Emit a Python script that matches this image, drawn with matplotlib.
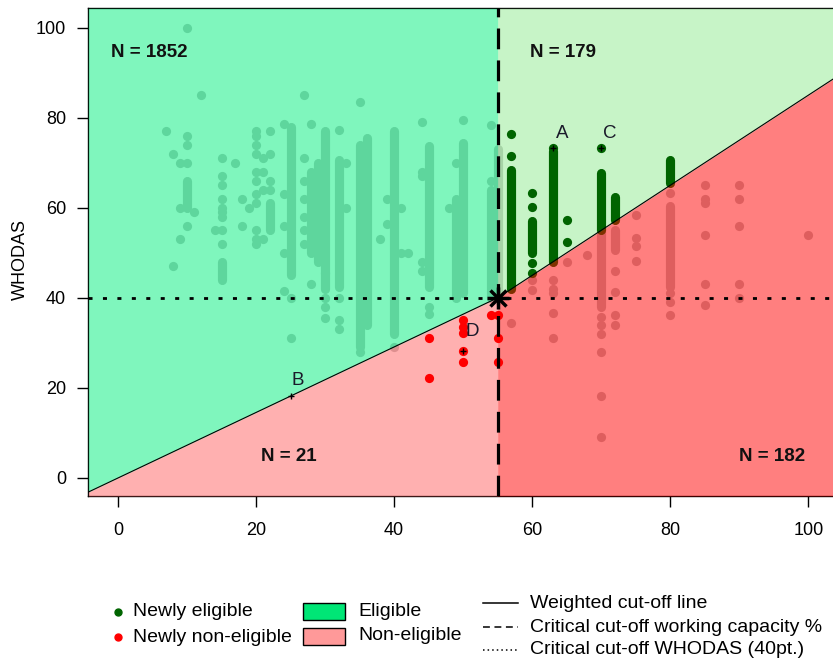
import matplotlib
matplotlib.use("Agg")
import matplotlib.pyplot as plt
from matplotlib.lines import Line2D
from matplotlib.patches import Rectangle
import numpy as np

plt.rcParams['font.family'] = ['Liberation Sans', 'DejaVu Sans']

# ---- cut-off definitions ----
cut_wc = 55          # critical working capacity %
cut_whodas = 40      # critical WHODAS score
slope_right = 1.0    # weighted line slope beyond the working-capacity cut-off

# ---- respondents whose eligibility is unchanged (scattered) ----
resp_x = [10, 12, 7, 8, 9, 10, 10, 10, 9, 11, 10, 9, 8,
          15, 15, 15, 15, 15, 15, 15, 15, 15, 14,
          17, 18, 18, 19,
          20, 20, 20, 20, 20, 20, 20, 20, 20, 20, 21, 21, 21, 21, 22, 22, 22, 22, 20,
          24, 24, 24, 24, 24, 25, 25,
          27, 28, 27, 27, 27, 27, 27, 27, 28, 30, 30, 30, 30,
          32, 32, 32, 32, 33, 33,
          35, 38, 39, 39, 35, 40,
          41, 41, 42, 44, 44, 44, 44, 44, 45, 45,
          48, 49, 50, 54, 54,
          57, 60, 60, 63, 63, 63, 63, 63, 65, 68,
          70, 70, 70, 70, 70, 70,
          72, 72, 72, 72,
          75, 75, 75, 75,
          80, 80, 80, 80,
          85, 85, 85, 85, 85, 85,
          90, 90, 90, 90, 90, 100]
resp_y = [100, 85, 77, 72, 70, 70, 76, 74, 60, 59, 56, 53, 47,
          71, 67, 65, 62, 60, 59, 58, 55, 52, 55,
          70, 62, 56, 60,
          77, 76, 74, 72, 68, 66, 63, 61, 55, 53, 71, 68, 64, 53, 77, 72, 66, 64, 52,
          78.5, 63, 56, 50, 41.5, 40, 31,
          85, 78.5, 71, 66, 62, 58, 55, 52, 43, 45.5, 40, 38, 35.5,
          77.3, 40, 35, 33, 70, 60,
          83.5, 53, 62, 56.5, 28, 29,
          60, 50, 50, 79, 68, 67, 48, 46, 38, 36.5,
          60, 70, 79.4, 78.4, 66,
          34.4, 41.8, 44, 44, 42, 41, 36.6, 31, 48, 49.6,
          35.8, 34, 32, 28, 18.2, 9,
          46, 41.4, 36.3, 34,
          58.4, 53.2, 51.5, 48.1,
          63.3, 41, 39, 36.2,
          65, 62, 61, 54, 43, 38.4,
          65, 62, 56, 43, 40, 54]

# ---- closely stacked runs of unchanged respondents (column, lowest, highest) ----
run_x = [10, 15, 22, 25, 28, 29, 30, 32, 35, 36, 40, 45, 49, 50, 54, 55, 70, 72, 80]
run_lo = [60, 44, 55, 45, 50, 48, 42, 42.5, 29, 34, 32, 42.5, 40, 41, 40, 40, 38, 50.7, 42.5]
run_hi = [66, 48, 61, 78, 68, 70, 77, 70.7, 74, 75.5, 77, 73.7, 62, 74.4, 64, 73, 55, 55, 60.4]

# ---- newly eligible respondents ----
elig_x = [57, 57, 60, 60, 60, 60, 63, 65, 65, 70]
elig_y = [76.4, 71.4, 63.3, 60.2, 47.7, 45.5, 73.3, 57.3, 52.5, 73.3]
elig_run_x = [57, 60, 63, 70, 72, 80]
elig_run_lo = [42, 50, 48, 55, 57.3, 65.5]
elig_run_hi = [68.4, 57, 72.6, 67.7, 62.5, 70.7]

# ---- newly non-eligible respondents ----
nonelig_x = [45, 45, 50, 50, 50, 50, 50, 54, 55, 55, 55]
nonelig_y = [31, 22.2, 35.1, 33.6, 32.1, 28.1, 25.8, 36.2, 36.2, 31, 25.8]

# ---- highlighted cases ----
case_labels = ['A', 'B', 'C', 'D']
case_x = [63, 25, 70, 50]
case_y = [73.3, 18.2, 73.3, 28.1]
case_dx = [1.3, 1.0, 1.3, 1.3]
case_dy = [3.3, 3.5, 3.3, 4.4]

# ---- group sizes ----
n_text = ['N = 1852', 'N = 179', 'N = 21', 'N = 182']
n_x = [4.6, 64.5, 24.7, 94.7]
n_y = [94.5, 94.5, 4.7, 4.7]

xlim = (-4.3, 104.3)
ylim = (-4.0, 104.3)


def cutoff_line(x):
    x = np.asarray(x, dtype=float)
    return np.where(x <= cut_wc, cut_whodas / cut_wc * x,
                    cut_whodas + slope_right * (x - cut_wc))


W, H = 833, 666
fig = plt.figure(figsize=(W / 100, H / 100), dpi=100)
ax_left, ax_right, ax_top, ax_bottom = 88.3, 838.0, 8.3, 496.0
ax = fig.add_axes([ax_left / W, 1 - ax_bottom / H,
                   (ax_right - ax_left) / W, (ax_bottom - ax_top) / H])
ax.set_xlim(*xlim)
ax.set_ylim(*ylim)

grey = '#BEBEBE'
pt_size = 44
run_lw = 6.6

# unchanged respondents (grey, later tinted by the region fills)
ax.scatter(resp_x, resp_y, s=pt_size, color=grey, lw=0, zorder=1)
for x, lo, hi in zip(run_x, run_lo, run_hi):
    ax.plot([x, x], [lo, hi], color=grey, lw=run_lw, solid_capstyle='round', zorder=1)

xl = np.linspace(xlim[0], cut_wc, 200)
xr = np.linspace(cut_wc, xlim[1], 200)

# upper-right region (newly eligible zone)
ax.fill_between(xr, cutoff_line(xr), ylim[1], color='#91EB91', alpha=0.5, lw=0, zorder=2)

# newly eligible respondents
ax.scatter(elig_x, elig_y, s=pt_size, color='#006400', lw=0, zorder=3)
for x, lo, hi in zip(elig_run_x, elig_run_lo, elig_run_hi):
    ax.plot([x, x], [lo, hi], color='#006400', lw=run_lw, solid_capstyle='round', zorder=3)

# remaining regions
ax.fill_between(xl, cutoff_line(xl), ylim[1], color='#00EE7D', alpha=0.5, lw=0, zorder=4)
ax.fill_between(xl, ylim[0], cutoff_line(xl), color='#FF6262', alpha=0.5, lw=0, zorder=4)
ax.fill_between(xr, ylim[0], cutoff_line(xr), color='#FF0000', alpha=0.5, lw=0, zorder=4)

# newly non-eligible respondents
ax.scatter(nonelig_x, nonelig_y, s=pt_size, color='#FF0000', lw=0, zorder=5)

# cut-off lines
xx = np.linspace(xlim[0], xlim[1], 400)
ax.plot(xx, cutoff_line(xx), color='black', lw=0.8, zorder=6)
ax.axvline(cut_wc, color='black', lw=2.3, dashes=(6.5, 3.5), zorder=6)
ax.axhline(cut_whodas, color='black', lw=2.0, dashes=(1.45, 3.75), zorder=6)
ax.plot([cut_wc], [cut_whodas], marker='+', ms=16, mew=2.5, color='black', zorder=7)
ax.plot([cut_wc], [cut_whodas], marker='x', ms=12, mew=2.5, color='black', zorder=7)

# highlighted cases
ax.scatter(case_x, case_y, marker='+', s=22, color='black', lw=1.0, zorder=7)
for lab, x, y, dx, dy in zip(case_labels, case_x, case_y, case_dx, case_dy):
    ax.text(x + dx, y + dy, lab, fontsize=13.5, ha='center', va='center',
            color='#1a1a2a', zorder=8)

for t, x, y in zip(n_text, n_x, n_y):
    ax.text(x, y, t, fontsize=13.5, fontweight='bold', ha='center', va='center',
            color='#111111', zorder=8)

# axes styling
for sp in ax.spines.values():
    sp.set_zorder(1.5)
    sp.set_linewidth(1.0)
ax.set_xticks([0, 20, 40, 60, 80, 100])
ax.set_yticks([0, 20, 40, 60, 80, 100])
ax.tick_params(axis='both', direction='out', length=8, width=1, labelsize=13)
ax.tick_params(axis='x', pad=11)
ax.tick_params(axis='y', pad=8)
ax.set_ylabel('WHODAS', fontsize=13)
ax.yaxis.set_label_coords((29 - ax_left) / (ax_right - ax_left), (ax_bottom - 259) / (ax_bottom - ax_top))


# legend, placed in pixel coordinates of the figure
def fx(px):
    return px / W


def fy(py):
    return 1 - py / H


leg_fs = 14
fig.add_artist(Line2D([fx(118)], [fy(612)], marker='o', ms=5, color='#006400', lw=0))
fig.add_artist(Line2D([fx(118)], [fy(637)], marker='o', ms=5, color='#FF0000', lw=0))
fig.text(fx(133), fy(612), 'Newly eligible', fontsize=leg_fs, va='center')
fig.text(fx(133), fy(637), 'Newly non-eligible', fontsize=leg_fs, va='center')

fig.add_artist(Rectangle((fx(303), fy(620)), fx(42), 17 / H, transform=fig.transFigure,
                         facecolor='#00E676', edgecolor='black', lw=1))
fig.add_artist(Rectangle((fx(303), fy(645)), fx(42), 17 / H, transform=fig.transFigure,
                         facecolor='#FF9999', edgecolor='black', lw=1))
fig.text(fx(358), fy(611), 'Eligible', fontsize=leg_fs, va='center')
fig.text(fx(358), fy(636), 'Non-eligible', fontsize=leg_fs, va='center')

fig.add_artist(Line2D([fx(483), fx(518)], [fy(603), fy(603)], color='black', lw=1.1))
fig.add_artist(Line2D([fx(483), fx(518)], [fy(627), fy(627)], color='black', lw=1.1,
                      dashes=(4.5, 3.0)))
fig.add_artist(Line2D([fx(483), fx(518)], [fy(650), fy(650)], color='black', lw=1.1,
                      dashes=(1.0, 2.0)))
fig.text(fx(530), fy(603), 'Weighted cut-off line', fontsize=leg_fs, va='center')
fig.text(fx(530), fy(627), 'Critical cut-off working capacity %', fontsize=leg_fs, va='center')
fig.text(fx(530), fy(650), 'Critical cut-off WHODAS (40pt.)', fontsize=leg_fs, va='center')

fig.savefig('out.png', dpi=100)
